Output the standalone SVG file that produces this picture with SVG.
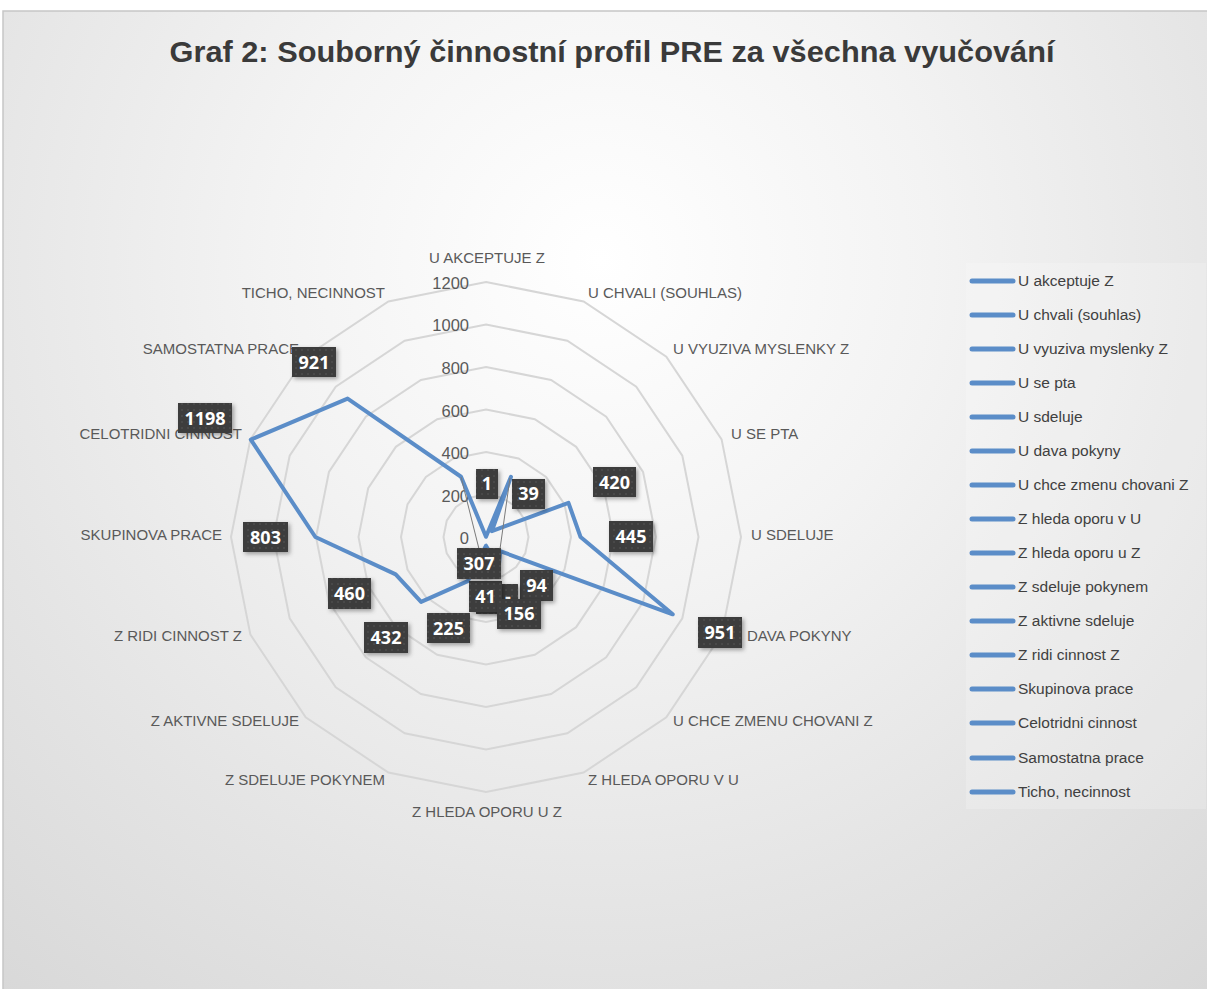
<svg xmlns="http://www.w3.org/2000/svg" width="1207" height="989" viewBox="0 0 1207 989">
  <defs>
    <radialGradient id="bg" cx="600" cy="260" r="950" gradientUnits="userSpaceOnUse">
      <stop offset="0" stop-color="#ffffff"/>
      <stop offset="0.35" stop-color="#f3f3f3"/>
      <stop offset="0.7" stop-color="#e4e4e4"/>
      <stop offset="1" stop-color="#d8d8d8"/>
    </radialGradient>
    <pattern id="dots" width="6" height="6" patternUnits="userSpaceOnUse">
      <rect width="6" height="6" fill="#3c3c3c"/>
      <circle cx="2" cy="2" r="0.8" fill="#575757"/>
    </pattern>
    <filter id="shadow" x="-30%" y="-30%" width="170%" height="170%">
      <feDropShadow dx="2" dy="2" stdDeviation="2" flood-color="#000" flood-opacity="0.35"/>
    </filter>
  </defs>
  <style>
    .title { font-family: "Liberation Sans", Arial, sans-serif; font-weight: bold; font-size: 30px; fill: #3a3a3a; }
    .cat { font-family: "Liberation Sans", Arial, sans-serif; font-size: 15px; fill: #595959; }
    .tick { font-family: "Liberation Sans", Arial, sans-serif; font-size: 16.5px; fill: #595959; text-anchor: end; }
    .ring { fill: none; stroke: #d6d6d6; stroke-width: 2; }
    .series { fill: none; stroke: #5b8dc8; stroke-width: 4; stroke-linejoin: round; }
    .leader { stroke: #7a7a7a; stroke-width: 1; }
    .box { fill: url(#dots); filter: url(#shadow); }
    .val { font-family: "Open Sans", "Liberation Sans", sans-serif; font-weight: bold; font-size: 18px; fill: #ffffff; text-anchor: middle; }
    .lkey { stroke: #5b8dc8; stroke-width: 5; stroke-linecap: round; }
    .ltxt { font-family: "Liberation Sans", Arial, sans-serif; font-size: 15.5px; fill: #404040; }
  </style>

  <!-- chart area -->
  <rect x="0" y="0" width="1207" height="989" fill="#ffffff"/>
  <rect x="3" y="11" width="1204" height="978" fill="url(#bg)"/>
  <path d="M3 989 V11 H1207" fill="none" stroke="#c6c6c6" stroke-width="1.5"/>

  <text class="title" x="612" y="62" text-anchor="middle" textLength="885" lengthAdjust="spacingAndGlyphs">Graf 2: Souborný činnostní profil PRE za všechna vyučování</text>

  <!-- radar grid (16 axes, 200 per ring) -->
  <g id="grid" transform="translate(486 537)">
    <polygon class="ring" points="0,-42.5 16.26,-39.27 30.05,-30.05 39.27,-16.26 42.5,0 39.27,16.26 30.05,30.05 16.26,39.27 0,42.5 -16.26,39.27 -30.05,30.05 -39.27,16.26 -42.5,0 -39.27,-16.26 -30.05,-30.05 -16.26,-39.27"/>
    <polygon class="ring" points="0,-85 32.53,-78.53 60.1,-60.1 78.53,-32.53 85,0 78.53,32.53 60.1,60.1 32.53,78.53 0,85 -32.53,78.53 -60.1,60.1 -78.53,32.53 -85,0 -78.53,-32.53 -60.1,-60.1 -32.53,-78.53"/>
    <polygon class="ring" points="0,-127.5 48.79,-117.8 90.16,-90.16 117.8,-48.79 127.5,0 117.8,48.79 90.16,90.16 48.79,117.8 0,127.5 -48.79,117.8 -90.16,90.16 -117.8,48.79 -127.5,0 -117.8,-48.79 -90.16,-90.16 -48.79,-117.8"/>
    <polygon class="ring" points="0,-170 65.06,-157.06 120.21,-120.21 157.06,-65.06 170,0 157.06,65.06 120.21,120.21 65.06,157.06 0,170 -65.06,157.06 -120.21,120.21 -157.06,65.06 -170,0 -157.06,-65.06 -120.21,-120.21 -65.06,-157.06"/>
    <polygon class="ring" points="0,-212.5 81.32,-196.33 150.26,-150.26 196.33,-81.32 212.5,0 196.33,81.32 150.26,150.26 81.32,196.33 0,212.5 -81.32,196.33 -150.26,150.26 -196.33,81.32 -212.5,0 -196.33,-81.32 -150.26,-150.26 -81.32,-196.33"/>
    <polygon class="ring" points="0,-255 97.59,-235.59 180.31,-180.31 235.59,-97.59 255,0 235.59,97.59 180.31,180.31 97.59,235.59 0,255 -97.59,235.59 -180.31,180.31 -235.59,97.59 -255,0 -235.59,-97.59 -180.31,-180.31 -97.59,-235.59"/>
  </g>

  <!-- value axis -->
  <g id="ticks">
    <text class="tick" x="469" y="289">1200</text>
    <text class="tick" x="469" y="331">1000</text>
    <text class="tick" x="469" y="374">800</text>
    <text class="tick" x="469" y="417">600</text>
    <text class="tick" x="469" y="459">400</text>
    <text class="tick" x="469" y="502">200</text>
    <text class="tick" x="469" y="544">0</text>
  </g>

  <!-- category labels -->
  <g id="categories">
    <text class="cat" x="487" y="263" text-anchor="middle">U AKCEPTUJE Z</text>
    <text class="cat" x="588" y="298">U CHVALI (SOUHLAS)</text>
    <text class="cat" x="673" y="354">U VYUZIVA MYSLENKY Z</text>
    <text class="cat" x="731" y="439">U SE PTA</text>
    <text class="cat" x="751" y="540">U SDELUJE</text>
    <text class="cat" x="747" y="641">DAVA POKYNY</text>
    <text class="cat" x="673" y="726">U CHCE ZMENU CHOVANI Z</text>
    <text class="cat" x="588" y="785">Z HLEDA OPORU V U</text>
    <text class="cat" x="487" y="817" text-anchor="middle">Z HLEDA OPORU U Z</text>
    <text class="cat" x="385" y="785" text-anchor="end">Z SDELUJE POKYNEM</text>
    <text class="cat" x="299" y="726" text-anchor="end">Z AKTIVNE SDELUJE</text>
    <text class="cat" x="242" y="641" text-anchor="end">Z RIDI CINNOST Z</text>
    <text class="cat" x="222" y="540" text-anchor="end">SKUPINOVA PRACE</text>
    <text class="cat" x="242" y="439" text-anchor="end">CELOTRIDNI CINNOST</text>
    <text class="cat" x="299" y="354" text-anchor="end">SAMOSTATNA PRACE</text>
    <text class="cat" x="385" y="298" text-anchor="end">TICHO, NECINNOST</text>
  </g>

  <!-- series polygon and label leaders -->
  <g id="connectors">
    <polygon class="series" points="486,536.8 510.97,476.73 491.86,531.14 568.46,502.84 580.56,537 672.71,614.34 500.13,551.13 498.69,567.63 486,545.71 467.7,581.17 421.09,601.91 395.69,574.41 315.36,537 250.8,439.57 347.61,398.61 461.03,476.73"/>
    <line class="leader" x1="461" y1="477" x2="479" y2="549"/>
    <line class="leader" x1="510" y1="478" x2="500" y2="549"/>
  </g>

  <!-- data labels -->
  <g id="label-1"><rect class="box" x="476" y="469" width="22" height="30"/><text class="val" x="487" y="490">1</text></g>
  <g id="label-39"><rect class="box" x="512" y="479" width="33" height="30"/><text class="val" x="528.5" y="500">39</text></g>
  <g id="label-420"><rect class="box" x="593" y="467" width="43" height="30"/><text class="val" x="614.5" y="489">420</text></g>
  <g id="label-445"><rect class="box" x="609" y="521" width="44" height="31"/><text class="val" x="631" y="543">445</text></g>
  <g id="label-951"><rect class="box" x="698" y="617" width="44" height="31"/><text class="val" x="720" y="639">951</text></g>
  <g id="label-94"><rect class="box" x="520" y="570" width="33" height="31"/><text class="val" x="536.5" y="592">94</text></g>
  <g id="label-zero"><rect class="box" x="476" y="584" width="42" height="30"/><text class="val" x="508" y="603">-</text></g>
  <g id="label-41"><rect class="box" x="469" y="581" width="33" height="31"/><text class="val" x="485.5" y="603">41</text></g>
  <g id="label-156"><rect class="box" x="497" y="599" width="44" height="30"/><text class="val" x="519" y="620">156</text></g>
  <g id="label-307"><rect class="box" x="457" y="548" width="44" height="31"/><text class="val" x="479" y="570">307</text></g>
  <g id="label-225"><rect class="box" x="427" y="613" width="43" height="30"/><text class="val" x="448.5" y="635">225</text></g>
  <g id="label-432"><rect class="box" x="364" y="622" width="44" height="31"/><text class="val" x="386" y="644">432</text></g>
  <g id="label-460"><rect class="box" x="328" y="578" width="43" height="31"/><text class="val" x="349.5" y="600">460</text></g>
  <g id="label-803"><rect class="box" x="243" y="522" width="45" height="30"/><text class="val" x="265.5" y="544">803</text></g>
  <g id="label-1198"><rect class="box" x="178" y="403" width="54" height="30"/><text class="val" x="205" y="425">1198</text></g>
  <g id="label-921"><rect class="box" x="292" y="347" width="44" height="30"/><text class="val" x="314" y="369">921</text></g>

  <!-- legend -->
  <g id="legend">
    <rect x="966" y="263" width="240" height="546" fill="#ffffff" fill-opacity="0.2"/>
    <line class="lkey" x1="972" y1="281" x2="1013" y2="281"/><text class="ltxt" x="1018" y="286">U akceptuje Z</text>
    <line class="lkey" x1="972" y1="315" x2="1013" y2="315"/><text class="ltxt" x="1018" y="320">U chvali (souhlas)</text>
    <line class="lkey" x1="972" y1="349" x2="1013" y2="349"/><text class="ltxt" x="1018" y="354">U vyuziva myslenky Z</text>
    <line class="lkey" x1="972" y1="383" x2="1013" y2="383"/><text class="ltxt" x="1018" y="388">U se pta</text>
    <line class="lkey" x1="972" y1="417" x2="1013" y2="417"/><text class="ltxt" x="1018" y="422">U sdeluje</text>
    <line class="lkey" x1="972" y1="451" x2="1013" y2="451"/><text class="ltxt" x="1018" y="456">U dava pokyny</text>
    <line class="lkey" x1="972" y1="485" x2="1013" y2="485"/><text class="ltxt" x="1018" y="490">U chce zmenu chovani Z</text>
    <line class="lkey" x1="972" y1="519" x2="1013" y2="519"/><text class="ltxt" x="1018" y="524">Z hleda oporu v U</text>
    <line class="lkey" x1="972" y1="553" x2="1013" y2="553"/><text class="ltxt" x="1018" y="558">Z hleda oporu u Z</text>
    <line class="lkey" x1="972" y1="587" x2="1013" y2="587"/><text class="ltxt" x="1018" y="592">Z sdeluje pokynem</text>
    <line class="lkey" x1="972" y1="621" x2="1013" y2="621"/><text class="ltxt" x="1018" y="626">Z aktivne sdeluje</text>
    <line class="lkey" x1="972" y1="655" x2="1013" y2="655"/><text class="ltxt" x="1018" y="660">Z ridi cinnost Z</text>
    <line class="lkey" x1="972" y1="689" x2="1013" y2="689"/><text class="ltxt" x="1018" y="694">Skupinova prace</text>
    <line class="lkey" x1="972" y1="723" x2="1013" y2="723"/><text class="ltxt" x="1018" y="728">Celotridni cinnost</text>
    <line class="lkey" x1="972" y1="758" x2="1013" y2="758"/><text class="ltxt" x="1018" y="763">Samostatna prace</text>
    <line class="lkey" x1="972" y1="792" x2="1013" y2="792"/><text class="ltxt" x="1018" y="797">Ticho, necinnost</text>
  </g>
</svg>
